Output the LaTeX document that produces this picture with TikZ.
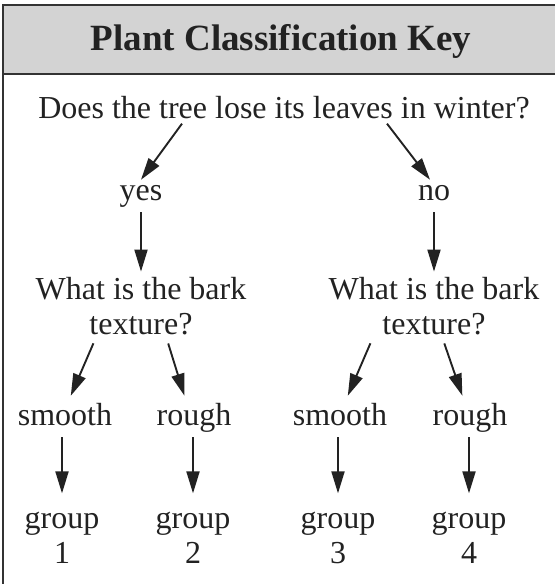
\documentclass[tikz,border=0pt]{standalone}
\usepackage{fontspec}
\setmainfont{Liberation Serif}
\usetikzlibrary{arrows.meta}
\definecolor{pckInk}{HTML}{222222}
\definecolor{pckGray}{HTML}{D3D3D3}
\definecolor{pckFrame}{HTML}{333333}
\tikzset{
  pck frame/.style={draw=pckFrame, line width=2.5pt},
  pck arrow/.style={draw=pckInk, line width=1.9pt, -{Triangle[length=22pt,width=13pt]}},
  pck text/.style={font=\fontsize{32}{35}\selectfont, text=pckInk, inner sep=5pt, anchor=base, align=center},
  pck word/.style={pck text, text depth=7pt},
  pck title/.style={font=\fontsize{37}{40}\selectfont\bfseries, text=pckInk, anchor=base},
}
\begin{document}
\begin{tikzpicture}[x=1pt,y=-1pt]
\useasboundingbox(0,0)rectangle(555,584);
% title bar and frame
\fill[pckGray](3,5)rectangle(555,74);
\draw[pck frame](3,584)--(3,5)--(555,5);
\draw[pck frame](3,74)--(555,74);
\node[pck title](title)at(281,50){Plant Classification Key};
% questions and answers (base = last line)
\node[pck text](q1)at(284,118){Does the tree lose its leaves in winter?};
\node[pck word](yes)at(141,200){yes};
\node[pck word](no)at(434,200){no};
\node[pck text](bark1)at(141,334){What is the bark\\texture?};
\node[pck text](bark2)at(434,334){What is the bark\\texture?};
\node[pck word](smooth1)at(65,425){smooth};
\node[pck word](rough1)at(194,425){rough};
\node[pck word](smooth2)at(340,425){smooth};
\node[pck word](rough2)at(470,425){rough};
\node[pck text](g1)at(62,563){group\\1};
\node[pck text](g2)at(193,563){group\\2};
\node[pck text](g3)at(338,563){group\\3};
\node[pck text](g4)at(469,563){group\\4};
% arrows
\draw[pck arrow]([xshift=-102pt]q1.south)--(yes.north);
\draw[pck arrow]([xshift=103pt]q1.south)--([xshift=-4pt]no.north);
\draw[pck arrow](yes.south)--(yes.south|-bark1.north);
\draw[pck arrow](no.south)--(no.south|-bark2.north);
\draw[pck arrow,shorten <=4pt,shorten >=2pt]([xshift=-46pt]bark1.south)--([xshift=5pt]smooth1.north);
\draw[pck arrow,shorten <=4pt,shorten >=2pt]([xshift=26pt]bark1.south)--([xshift=-9pt]rough1.north);
\draw[pck arrow,shorten <=4pt,shorten >=2pt]([xshift=-62pt]bark2.south)--([xshift=7pt]smooth2.north);
\draw[pck arrow,shorten <=4pt,shorten >=2pt]([xshift=9pt]bark2.south)--([xshift=-7pt]rough2.north);
\foreach \a/\b in {smooth1/g1,rough1/g2,smooth2/g3,rough2/g4}
  \draw[pck arrow,shorten >=13pt](\b.north|-\a.south)--(\b.north);
\end{tikzpicture}
\end{document}
